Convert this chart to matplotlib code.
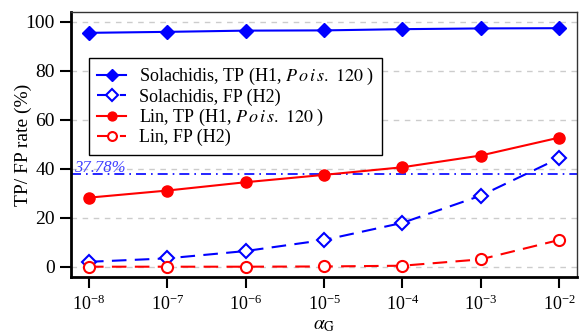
import numpy as np
import matplotlib.pyplot as plt

plt.rcParams['font.family'] = ['Liberation Serif', 'DejaVu Serif']
plt.rcParams['mathtext.fontset'] = 'stix'

# data
exps = [-8, -7, -6, -5, -4, -3, -2]
sol_tp = [95.5, 95.9, 96.4, 96.5, 97.0, 97.3, 97.4]
sol_fp = [2.0, 3.4, 6.4, 10.9, 17.9, 29.0, 44.3]
lin_tp = [28.2, 31.1, 34.5, 37.5, 40.6, 45.4, 52.7]
lin_fp = [0.0, 0.0, 0.0, 0.1, 0.4, 3.0, 10.9]
ref_level = 37.78

x = [10.0**e for e in exps]

fig = plt.figure(figsize=(5.79, 3.34), dpi=100)
ax = fig.add_axes([0.1226, 0.1707, 0.874, 0.7933])

ax.plot(x, sol_tp, '-', color='blue', lw=1.5, marker='D', ms=7.5,
        label=r'Solachidis, TP (H1, $\mathit{P\,o\,i\,s.\ 120}$ )')
ax.plot(x, sol_fp, '--', color='blue', lw=1.5, marker='D', ms=7.5, mfc='white',
        mew=1.5, dashes=(7, 4), label='Solachidis, FP (H2)')
ax.plot(x, lin_tp, '-', color='red', lw=1.5, marker='o', ms=8,
        label=r'Lin, TP (H1, $\mathit{P\,o\,i\,s.\ 120}$ )')
ax.plot(x, lin_fp, '--', color='red', lw=1.5, marker='o', ms=8, mfc='white',
        mew=1.5, dashes=(7, 4), label='Lin, FP (H2)')

ax.axhline(ref_level, color='blue', lw=1.2, ls=(0, (6, 3, 1, 3)), zorder=1)
ax.text(10**-8.19, ref_level - 0.9, '37.78%', color='#4040ff', fontsize=12,
        style='italic', ha='left', va='bottom')

ax.set_xscale('log')
ax.set_xlim(10**-8.23, 10**-1.77)
ax.set_ylim(-4.2, 104)
ax.set_xticks(x)
ax.set_xticks([], minor=True)
ax.set_yticks([0, 20, 40, 60, 80, 100])
ax.yaxis.grid(True, color='#cccccc', ls=(0, (4, 4)), lw=1)
ax.set_axisbelow(True)

for s in ['top', 'right']:
    ax.spines[s].set_color('#333333')
    ax.spines[s].set_linewidth(1)
for s in ['left', 'bottom']:
    ax.spines[s].set_linewidth(2)

ax.tick_params(axis='both', direction='out', length=8, width=1.5, labelsize=14)
ax.tick_params(axis='x', labelsize=13, pad=5)
ax.set_ylabel('TP/ FP rate (%)', fontsize=14)
ax.yaxis.set_label_coords(-0.077, 0.5)
ax.set_xlabel(r'$\alpha_{\mathrm{G}}$', fontsize=14, labelpad=2)

leg = ax.legend(loc='upper left', bbox_to_anchor=(0.036, 0.826), borderaxespad=0,
                fontsize=13, handlelength=1.6, handletextpad=0.7, markerscale=0.8,
                borderpad=0.45, labelspacing=0.06, fancybox=False, framealpha=1)
leg.get_frame().set_edgecolor('black')
leg.get_frame().set_linewidth(1)

fig.savefig('out.png', dpi=100)
